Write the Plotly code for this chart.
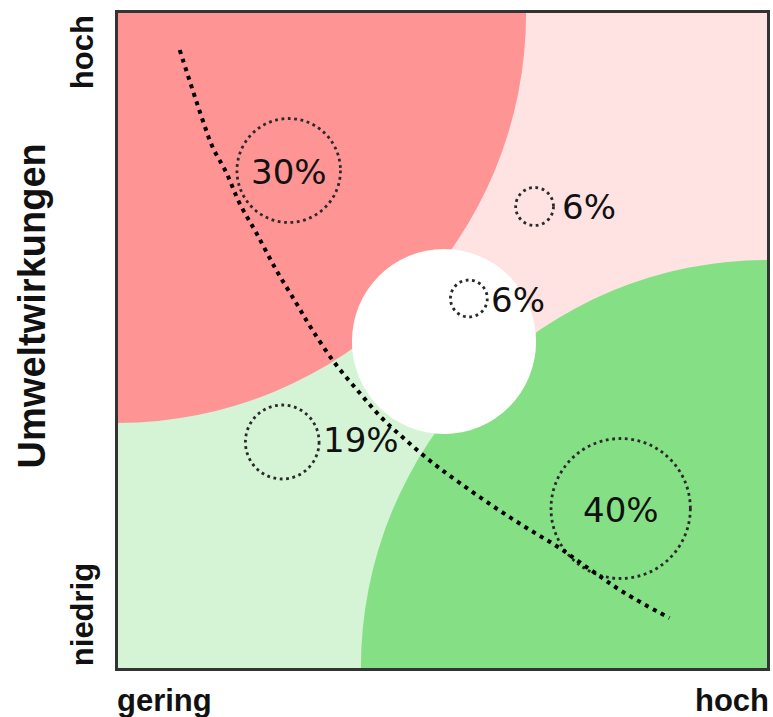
import plotly.graph_objects as go

# ---- data (plot units: x 0..652 left->right, y 0..655 bottom->top) ----
x_range = [0, 652]
y_range = [0, 655]

# quadrant background colours
quad_colors = {"top_right": "#FFE2E2", "bottom_left": "#D5F3D5"}

# big coloured circles (center x, center y, radius, colour)
zone_cx = [0, 652, 327.5]
zone_cy = [655, 0, 326.5]
zone_r = [410, 408, 92.5]
zone_colors = ["#FF9494", "#85E085", "#FFFFFF"]

# share labels and their dotted circles
share_labels = ["30%", "6%", "6%", "19%", "40%"]
share_cx = [171.5, 418.5, 352.5, 165, 505]
share_cy = [497.5, 461.5, 369.5, 226, 159.5]
share_r = [52, 19, 18.5, 37, 70]
label_x = [171.5, 444, 373, 204, 505]
label_y = [496, 461, 368, 228, 158]
label_anchor = ["center", "left", "left", "left", "center"]

# dotted trade-off curve
curve_x = [62, 75, 85, 95, 109, 122, 139, 159, 179, 194, 217, 242, 265, 289,
           315, 342, 375, 409, 442, 475, 509, 554]
curve_y = [618, 578, 548, 521, 495, 465, 435, 398, 365, 340, 306, 276, 250, 228,
           206, 186, 163, 141, 121, 98, 75, 50]

x_tick_labels = ["gering", "hoch"]
y_tick_labels = ["niedrig", "hoch"]
y_title = "Umweltwirkungen"

# label positions in plot units (outside the axes)
xlab_y = -32
xlab_x = [-3, 656]
ylab_x = -36
ylab_y = [53, 616]
ytitle_x, ytitle_y = -86, 362


def px(v):
    return v / (x_range[1] - x_range[0])


def py(v):
    return v / (y_range[1] - y_range[0])


# ---- figure ----
fig = go.Figure()

# background quadrants
fig.add_shape(type="rect", xref="x", yref="y", x0=x_range[0], x1=x_range[1],
              y0=y_range[0], y1=y_range[1], fillcolor=quad_colors["top_right"],
              line_width=0, layer="below")
fig.add_shape(type="path", xref="x", yref="y",
              path=f"M {x_range[0]},{y_range[0]} L {x_range[0]},{y_range[1]} L {x_range[1]},{y_range[0]} Z",
              fillcolor=quad_colors["bottom_left"], line_width=0, layer="below")

for cx, cy, r, c in zip(zone_cx, zone_cy, zone_r, zone_colors):
    fig.add_shape(type="circle", xref="x", yref="y", x0=cx - r, x1=cx + r,
                  y0=cy - r, y1=cy + r, fillcolor=c, line_width=0, layer="below")

for cx, cy, r in zip(share_cx, share_cy, share_r):
    fig.add_shape(type="circle", xref="x", yref="y", x0=cx - r, x1=cx + r,
                  y0=cy - r, y1=cy + r, fillcolor="rgba(0,0,0,0)",
                  line=dict(color="#2a2a2a", width=2.8, dash="2.8px,3.6px"),
                  layer="below")

fig.add_trace(go.Scatter(
    x=curve_x, y=curve_y, mode="lines", line_shape="spline",
    line=dict(color="#000000", width=4, dash="4px,5px"),
    hoverinfo="skip", showlegend=False))

for t, x, y, a in zip(share_labels, label_x, label_y, label_anchor):
    fig.add_annotation(x=x, y=y, xref="x", yref="y", text=t, showarrow=False,
                       xanchor=a, yanchor="middle",
                       font=dict(family="DejaVu Sans", size=34, color="#111111"))

axis_font = dict(family="Liberation Sans", size=31, color="#111111", weight="bold")
fig.add_annotation(x=px(xlab_x[0]), y=py(xlab_y), xref="paper", yref="paper",
                   text=x_tick_labels[0], showarrow=False,
                   xanchor="left", yanchor="middle", font=axis_font)
fig.add_annotation(x=px(xlab_x[1]), y=py(xlab_y), xref="paper", yref="paper",
                   text=x_tick_labels[1], showarrow=False,
                   xanchor="right", yanchor="middle", font=axis_font)
fig.add_annotation(x=px(ylab_x), y=py(ylab_y[0]), xref="paper", yref="paper",
                   text=y_tick_labels[0], showarrow=False,
                   textangle=-90, xanchor="center", yanchor="middle", font=axis_font)
fig.add_annotation(x=px(ylab_x), y=py(ylab_y[1]), xref="paper", yref="paper",
                   text=y_tick_labels[1], showarrow=False,
                   textangle=-90, xanchor="center", yanchor="middle", font=axis_font)
fig.add_annotation(x=px(ytitle_x), y=py(ytitle_y), xref="paper", yref="paper",
                   text=y_title, showarrow=False,
                   textangle=-90, xanchor="center", yanchor="middle",
                   font=dict(family="Liberation Sans", size=38, color="#111111", weight="bold"))

axis_common = dict(showgrid=False, zeroline=False, showticklabels=False, ticks="",
                   showline=True, mirror=True, linecolor="#333333", linewidth=3)
fig.update_xaxes(range=x_range, **axis_common)
fig.update_yaxes(range=y_range, **axis_common)

fig.update_layout(width=773, height=717, margin=dict(l=118, r=3, t=13, b=49),
                  plot_bgcolor="white", paper_bgcolor="white", showlegend=False)

fig.write_html("out.html", config={"displayModeBar": False},
               post_script="document.body.style.margin='0';document.body.style.padding='0';")
